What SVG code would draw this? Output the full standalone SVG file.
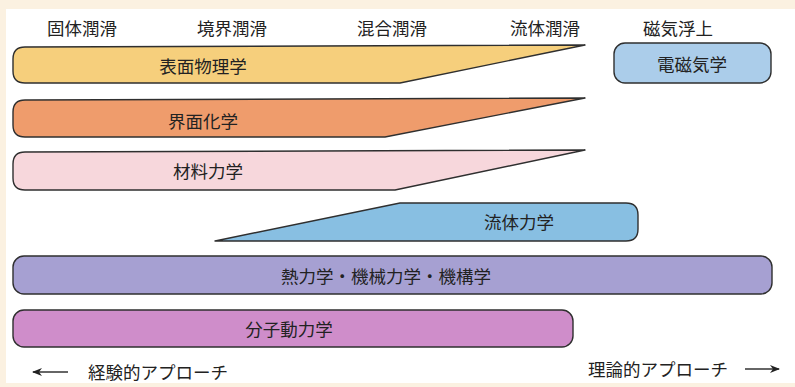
<svg xmlns="http://www.w3.org/2000/svg" width="795" height="387" viewBox="0 0 795 387">
<defs>
<style>
.t{font-family:"Noto Sans CJK JP","Noto Sans CJK SC",sans-serif;font-size:17.5px;fill:#222;text-anchor:middle;dominant-baseline:central}
.s{stroke:#2f2f2f;stroke-width:1.4;stroke-linejoin:round}
.ar{stroke:#333;stroke-width:1.3;fill:none}
</style>
<marker id="ah" viewBox="0 0 10 10" refX="9" refY="5" markerWidth="10" markerHeight="10" orient="auto-start-reverse" markerUnits="userSpaceOnUse">
<path d="M0,1 L10,5 L0,9 L3,5 Z" fill="#222"/>
</marker>
</defs>
<rect x="0" y="0" width="795" height="387" fill="#fbf1e1"/>
<rect x="6" y="9" width="789" height="374" fill="#ffffff"/>

<g id="headers">
<text class="t" x="82" y="27">固体潤滑</text>
<text class="t" x="232" y="27">境界潤滑</text>
<text class="t" x="392" y="27">混合潤滑</text>
<text class="t" x="545" y="27">流体潤滑</text>
<text class="t" x="678" y="27">磁気浮上</text>
</g>

<g id="surface-physics">
<path class="s" fill="#f6cf7c" d="M25,47 L585,45 L400,83 L25,83 Q13,83 13,71 L13,59 Q13,47 25,47 Z"/>
<text class="t" x="203" y="65">表面物理学</text>
</g>

<g id="interface-chemistry">
<path class="s" fill="#ef9c6c" d="M25,100 L585,98 L385,137 L25,137 Q13,137 13,125 L13,112 Q13,100 25,100 Z"/>
<text class="t" x="203" y="120">界面化学</text>
</g>

<g id="materials-mechanics">
<path class="s" fill="#f7d7dc" d="M25,152 L585,150 L395,190 L25,190 Q13,190 13,178 L13,164 Q13,152 25,152 Z"/>
<text class="t" x="208" y="170">材料力学</text>
</g>

<g id="fluid-mechanics">
<path class="s" fill="#88bfe2" d="M215,241 L400,203 L626,203 Q638,203 638,215 L638,229 Q638,241 626,241 Z"/>
<text class="t" x="519" y="221">流体力学</text>
</g>

<g id="electromagnetics">
<rect class="s" x="614" y="43" width="157" height="40" rx="11" fill="#abcdea"/>
<text class="t" x="692" y="63">電磁気学</text>
</g>

<g id="thermo-mechanics">
<rect class="s" x="13" y="256" width="759" height="38" rx="11" fill="#a6a0d2"/>
<text class="t" x="386" y="275">熱力学・機械力学・機構学</text>
</g>

<g id="molecular-dynamics">
<rect class="s" x="13" y="310" width="560" height="37" rx="11" fill="#cf8dca"/>
<text class="t" x="289" y="328">分子動力学</text>
</g>

<g id="connectors">
<line class="ar" x1="68" y1="372" x2="33" y2="372" marker-end="url(#ah)"/>
<line class="ar" x1="745" y1="369" x2="779" y2="369" marker-end="url(#ah)"/>
</g>

<g id="axis-labels">
<text class="t" x="158" y="371">経験的アプローチ</text>
<text class="t" x="658" y="368">理論的アプローチ</text>
</g>
</svg>
